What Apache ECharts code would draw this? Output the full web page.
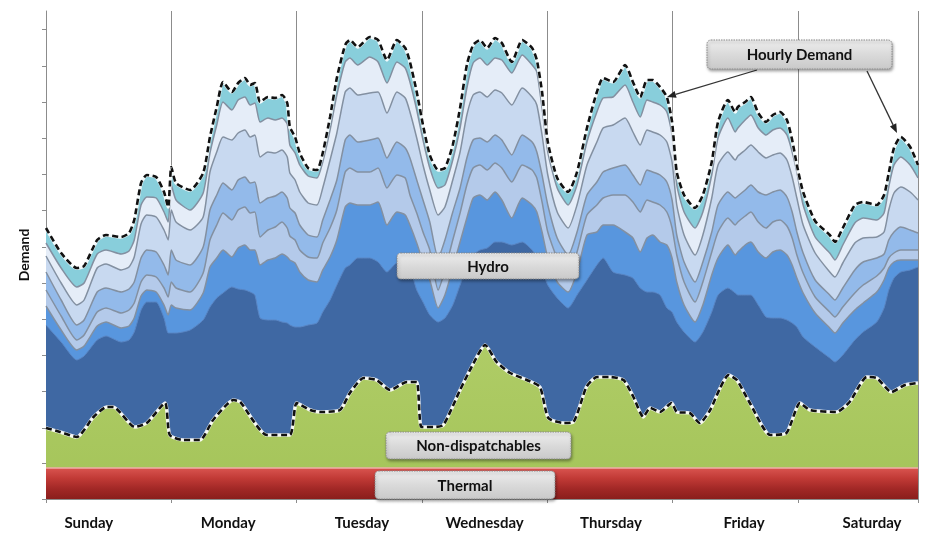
<!DOCTYPE html>
<html><head><meta charset="utf-8">
<script src="https://cdn.jsdelivr.net/npm/echarts@6/dist/echarts.min.js"></script>
<style>html,body{margin:0;padding:0;background:#fff}#c{width:926px;height:541px}</style>
</head><body><div id="c"></div>
<script>
// ---- tick labels / categories ----
const DAYS = ['Sunday','Monday','Tuesday','Wednesday','Thursday','Friday','Saturday'];
const DAY_LABEL_HOURS = [8.2, 34.9, 60.5, 84, 108.2, 133.7, 158.2];
const Y_TICKS = [0,36,71,108,144,180,216,252,289,325,361,397,433,470];

// ---- hours of the week at which the stacked boundaries were read ----
const HOURS = [0,2.9,5.9,7.3,9.8,11.5,14.4,15.9,16.9,18.2,
19.3,21.1,22.6,23.4,24,24.9,27.6,30.1,31.4,32.7,
33.9,35.6,36.8,38.1,39.1,40,41,42.5,43.9,45.2,
46.2,46.7,47.7,48.6,50.2,51.9,53,54.4,55.7,57.3,
58.2,59.7,62,63.6,65.3,67.2,68.8,69.7,71,72.2,
73.5,75.1,76.4,77.9,79.3,80.6,81.8,83.1,84.5,86,
87.3,89.2,91.2,93.1,94,95,96.1,97.9,100,101.7,
103.6,105.5,106.7,108.6,110.9,112.4,113.8,115.1,116.2,117.6,
118.9,119.9,120.8,122.2,124.3,125.8,127.5,128.7,130.6,132,
132.5,133.9,135,136.4,137.9,139.2,140.6,141.9,142.9,143.8,
145,147.3,150.1,151.1,152.6,154.9,156.5,159.1,160.5,161.4,
162.4,163.7,165.5,167];

// Hourly demand (top of stack)
const DEMAND = [271,246,231,233,259,264,262,266,279,316,
324,322,307,292,332,316,309,326,362,392,
417,407,416,421,414,416,397,402,401,404,
396,372,362,346,331,329,346,382,421,454,
459,452,462,459,439,459,451,437,407,374,
344,329,331,354,391,434,454,459,451,461,
456,437,459,451,439,407,357,321,307,327,
371,407,421,417,434,417,402,419,419,412,
402,377,327,304,291,304,337,377,399,387,
392,397,402,386,377,384,387,379,359,334,
307,278,264,257,271,294,297,294,304,326,
351,362,352,334];

// cumulative hydro layer levels (top of each layer)
const HYDRO_L6 = [256,231,212,216,245,249,245,248,259,294,
302,301,287,277,314,299,289,306,346,374,
397,389,399,402,394,396,377,381,379,381,
375,354,346,334,323,321,337,369,404,437,
441,434,442,437,416,437,431,417,389,359,
331,311,314,339,371,411,436,441,434,441,
439,426,444,434,427,391,347,311,294,314,
357,387,401,402,414,397,382,399,397,394,
387,364,314,287,271,287,324,361,381,367,
371,379,384,371,364,369,371,364,347,327,
294,262,246,239,254,276,281,279,286,312,
334,342,334,321];
const HYDRO_L5 = [243,216,194,199,231,235,229,232,242,275,
284,282,269,259,289,277,269,282,327,347,
362,359,366,369,362,364,342,347,346,349,
342,326,319,307,296,294,311,339,366,407,
411,404,406,407,386,407,401,387,361,334,
309,284,292,319,347,384,404,407,402,409,
406,394,411,402,394,364,324,287,271,294,
334,357,371,374,381,367,354,369,367,364,
357,337,294,264,244,264,301,334,347,339,
343,349,354,347,341,344,346,339,322,301,
274,246,227,222,236,256,261,262,267,289,
306,312,307,299];
const HYDRO_L4 = [227,199,174,179,207,211,207,210,217,241,
249,247,234,224,249,239,234,252,289,304,
316,309,319,322,316,317,296,301,303,307,
301,291,286,274,264,262,279,299,319,359,
364,357,359,361,341,357,351,341,319,299,
277,241,259,287,311,341,359,361,357,364,
359,344,364,357,347,324,294,261,244,267,
304,317,327,331,334,324,314,329,327,324,
317,299,264,237,217,237,267,294,307,301,
303,309,314,307,304,307,309,302,287,267,
246,219,204,199,211,229,237,241,245,259,
267,272,269,266];
const HYDRO_L3 = [209,183,159,164,187,191,186,189,196,217,
224,222,211,202,217,211,207,226,259,274,
286,279,289,292,286,287,262,269,272,277,
271,263,259,249,242,241,256,271,289,327,
331,327,327,331,311,324,321,304,286,267,
249,209,229,259,286,314,331,334,329,336,
331,317,334,329,321,297,267,241,224,247,
284,294,301,304,304,297,287,299,297,294,
287,271,244,217,197,217,247,267,281,274,
277,283,287,277,271,277,279,273,261,244,
226,202,187,182,192,206,214,223,231,241,
246,249,249,249];
const HYDRO_L2 = [193,169,149,153,173,177,171,173,181,203,
209,207,194,184,194,191,189,206,232,241,
249,242,251,254,249,249,234,239,241,245,
242,239,236,227,219,217,229,242,259,292,
296,294,294,297,274,287,284,274,256,237,
219,191,204,231,257,281,301,304,299,307,
299,281,301,294,287,267,241,217,207,227,
264,267,274,274,267,261,247,261,264,257,
254,241,217,194,177,194,224,241,254,244,
247,254,257,247,241,247,249,244,234,221,
206,186,171,166,176,189,196,207,219,231,
237,239,239,239];
const HYDRO_BASE = [174,157,139,143,159,163,157,159,167,189,
197,197,181,166,166,166,169,179,192,201,
206,212,210,209,207,204,181,179,179,177,
176,174,172,172,174,176,187,199,214,231,
234,241,241,237,227,236,234,231,209,197,
184,177,181,194,214,231,244,249,251,257,
257,254,257,249,241,229,214,201,191,204,
219,234,241,227,224,221,211,207,207,204,
191,187,177,167,157,167,187,204,211,206,
204,204,204,194,182,181,181,179,176,172,
162,152,141,137,144,159,167,177,191,209,
221,227,229,232];

// Non-dispatchables (cumulative, incl. thermal)
const ND_HOURS = [0,2.7,5.9,9.1,11.6,12.9,17,19.3,22.8,23.7,
26.3,29.5,32,35.9,37.2,42.3,46.7,48,50.6,52.5,
56.3,58.2,60.8,63.3,65.9,69.1,71,71.9,74.2,76.1,
79.3,81.5,84.1,86.3,88.9,92.1,94.6,96.2,99.1,101,
103.5,105.5,108,110.6,112.5,114.4,115.7,117.6,119.8,120.8,
123.3,125.2,127.2,129.1,130.7,132.3,134.8,138.7,141.8,144.4,
146.3,151.4,153.9,157.2,159.1,161.9,164.5,167];
const ND_VALUES = [71,67,62,82,92,92,72,76,96,64,
59,59,79,99,97,64,64,96,89,87,
89,106,121,119,109,117,117,72,72,74,
109,132,154,137,126,119,112,81,76,77,
112,122,122,119,102,82,91,87,96,87,
86,76,89,111,124,119,96,64,66,96,
89,87,97,122,121,107,114,116];

// Thermal
const TH_HOURS = [0,24,48,72,96,120,144,167];
const TH_VALUES = [31,31,31,31,31,31,31,31];

function pairs(xs, ys){ return xs.map((x,i)=>[x, ys[i]]); }
const grad = (stops) => new echarts.graphic.LinearGradient(0,0,0,1,stops.map((c,i)=>({offset:i/(stops.length-1), color:c})));

function layer(name, xs, ys, fill, lineColor, lw){
  return {name, type:'line', data: pairs(xs, ys), symbol:'none', smooth:0.2, silent:true,
    areaStyle:{color: fill, opacity:1},
    lineStyle:{color: lineColor || '#8390A1', width: lw==null?1.5:lw},
    emphasis:{disabled:true}};
}
function dashed(name, xs, ys){
  return [
    {name:name+'-halo', type:'line', data: pairs(xs, ys), symbol:'none', smooth:0.2, silent:true, z:5,
      lineStyle:{color:'rgba(255,255,255,0.9)', width:3.5}},
    {name, type:'line', data: pairs(xs, ys), symbol:'none', smooth:0.2, silent:true, z:6,
      lineStyle:{color:'#111', width:2.6, type:[6,3.5]}}
  ];
}

const chart = echarts.init(document.getElementById('c'), null, {renderer:'canvas'});

const series = [
  layer('Hydro 7', HOURS, DEMAND, '#88CEDB', '#6BB7C8'),
  layer('Hydro 6', HOURS, HYDRO_L6, '#E5EDF8'),
  layer('Hydro 5', HOURS, HYDRO_L5, '#C8D9F0'),
  layer('Hydro 4', HOURS, HYDRO_L4, '#93BAEA'),
  layer('Hydro 3', HOURS, HYDRO_L3, '#B4CAEA'),
  layer('Hydro 2', HOURS, HYDRO_L2, '#5896DE'),
  layer('Hydro', HOURS, HYDRO_BASE, '#3F68A3', '#5A86C4', 1),
  layer('Non-dispatchables', ND_HOURS, ND_VALUES, grad(['#AFCC66','#A4C459']), '#C8DC8E', 1),
  layer('Thermal', TH_HOURS, TH_VALUES, grad(['#D9544F','#C13A36','#A22826','#8A1E1C']), '#F0B0A8', 1.5),
  ...dashed('Hourly Demand', HOURS, DEMAND),
  ...dashed('Non-dispatchables line', ND_HOURS, ND_VALUES)
];

function box(x, y, w, h, text){
  return [
    {type:'rect', x, y, z:100, shape:{width:w, height:h, r:4},
      style:{fill: grad(['#EEEEEE','#DADADA','#C9C9C9']), stroke:'#8A8A8A', lineWidth:1, lineDash:[1.5,1],
        shadowBlur:3, shadowOffsetX:1, shadowOffsetY:2, shadowColor:'rgba(0,0,0,0.35)'}},
    {type:'text', x: x + w/2, y: y + h/2 + 1, z:101,
      style:{text, font:'bold 15px Lato', fill:'#111', align:'center', verticalAlign:'middle'}}
  ];
}
function arrow(x1,y1,x2,y2){
  const dx=x2-x1, dy=y2-y1, L=Math.hypot(dx,dy), ux=dx/L, uy=dy/L;
  const bx=x2-9*ux, by=y2-9*uy, nx=-uy, ny=ux;
  return [
    {type:'line', z:99, shape:{x1, y1, x2:bx, y2:by}, style:{stroke:'#333', lineWidth:1.3}},
    {type:'polygon', z:99, shape:{points:[[x2,y2],[bx+3.5*nx,by+3.5*ny],[bx-3.5*nx,by-3.5*ny]]}, style:{fill:'#222'}}
  ];
}

chart.setOption({
  animation:false,
  backgroundColor:'#fff',
  grid:{left:46, right:8, top:11, bottom:42, containLabel:false},
  xAxis:[
    {type:'value', min:0, max:167, interval:24,
      axisLine:{show:true, lineStyle:{color:'#8C8C8C'}},
      axisTick:{show:true, length:4, lineStyle:{color:'#8C8C8C'}},
      axisLabel:{show:false},
      splitLine:{show:true, lineStyle:{color:'#8C8C8C', width:1}}},
    {type:'value', min:0, max:167, position:'bottom',
      axisLine:{show:false}, axisTick:{show:false}, splitLine:{show:false},
      axisLabel:{show:true, customValues: DAY_LABEL_HOURS, margin:17,
        fontFamily:'Lato', fontWeight:'bold', fontSize:15, color:'#111',
        formatter: v => { let bi=0, bd=1e9; DAY_LABEL_HOURS.forEach((h,i)=>{const d=Math.abs(h-v); if(d<bd){bd=d;bi=i;}}); return DAYS[bi]; }}}
  ],
  yAxis:{type:'value', min:0, max:488,
    name:'Demand', nameLocation:'middle', nameGap:15, nameRotate:90,
    nameTextStyle:{fontFamily:'Lato', fontWeight:'bold', fontSize:14, color:'#111'},
    axisLine:{show:true, lineStyle:{color:'#8C8C8C'}},
    axisTick:{show:true, length:4, customValues: Y_TICKS, lineStyle:{color:'#8C8C8C'}},
    axisLabel:{show:false}, splitLine:{show:false}},
  series,
  graphic:{elements:[
    ...arrow(757,70,667,97),
    ...arrow(867,71,897,133),
    ...box(707,40,185,29,'Hourly Demand'),
    ...box(397,253,182,26,'Hydro'),
    ...box(386,432,185,27,'Non-dispatchables'),
    ...box(375,471,180,28,'Thermal')
  ]}
});
</script>
</body></html>
